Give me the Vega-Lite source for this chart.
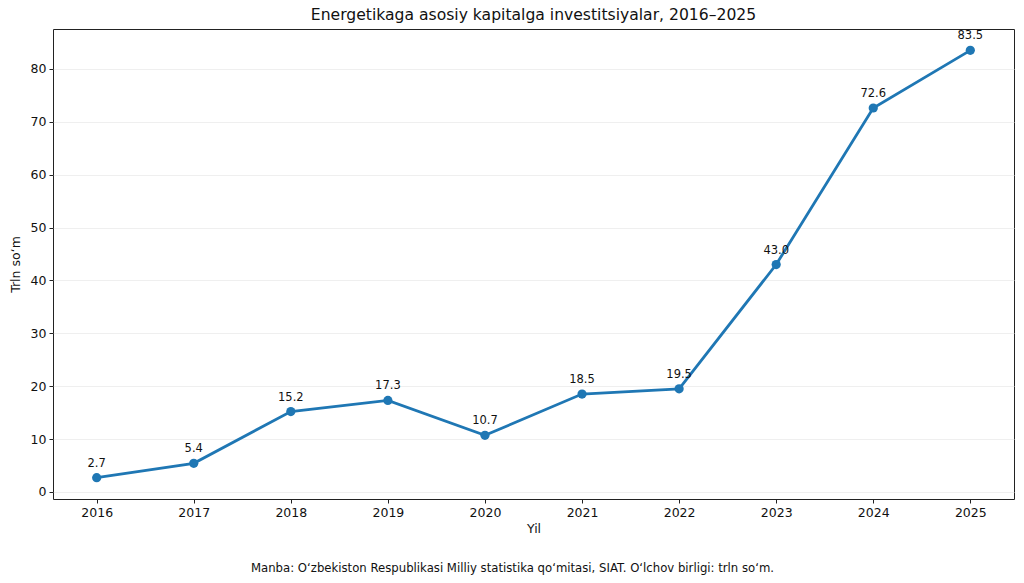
{
  "$schema": "https://vega.github.io/schema/vega-lite/v6.json",
  "width": 961,
  "height": 470,
  "autosize": {"type": "none"},
  "padding": {"left": 53, "top": 29, "right": 10, "bottom": 84},
  "background": "white",
  "config": {
    "font": "DejaVu Sans",
    "view": {"stroke": "#222", "strokeWidth": 1},
    "axis": {
      "domain": false,
      "tickColor": "#222",
      "tickSize": 4,
      "labelColor": "#111",
      "titleColor": "#111",
      "labelFontSize": 12.5,
      "titleFontSize": 12.5,
      "titleFontWeight": "normal",
      "labelFontWeight": "normal",
      "labelFont": "DejaVu Sans",
      "titleFont": "DejaVu Sans"
    }
  },
  "title": {
    "text": "Energetikaga asosiy kapitalga investitsiyalar, 2016–2025",
    "fontSize": 15.6,
    "fontWeight": "normal",
    "font": "DejaVu Sans",
    "color": "#111",
    "anchor": "middle",
    "offset": 5
  },
  "data": {
    "values": [
      {"yil": 2016, "qiymat": 2.7},
      {"yil": 2017, "qiymat": 5.4},
      {"yil": 2018, "qiymat": 15.2},
      {"yil": 2019, "qiymat": 17.3},
      {"yil": 2020, "qiymat": 10.7},
      {"yil": 2021, "qiymat": 18.5},
      {"yil": 2022, "qiymat": 19.5},
      {"yil": 2023, "qiymat": 43.0},
      {"yil": 2024, "qiymat": 72.6},
      {"yil": 2025, "qiymat": 83.5}
    ]
  },
  "encoding": {
    "y": {
      "field": "qiymat",
      "type": "quantitative",
      "scale": {"domain": [-1.34, 87.54], "nice": false, "zero": false},
      "axis": {
        "values": [0, 10, 20, 30, 40, 50, 60, 70, 80],
        "grid": true,
        "gridColor": "#ebebeb",
        "gridWidth": 0.8,
        "labelPadding": 3,
        "title": "Trln soʻm",
        "titlePadding": 8
      }
    }
  },
  "layer": [
    {
      "mark": {"type": "line", "color": "#1f77b4", "strokeWidth": 2.8},
      "encoding": {
        "x": {
          "field": "yil",
          "type": "quantitative",
          "scale": {"domain": [2015.55, 2025.45], "nice": false, "zero": false},
          "axis": {
            "orient": "bottom",
            "values": [2016, 2017, 2018, 2019, 2020, 2021, 2022, 2023, 2024, 2025],
            "format": "d",
            "grid": false,
            "labelPadding": 3,
            "title": "Yil",
            "titlePadding": 4
          }
        }
      }
    },
    {
      "mark": {"type": "point", "filled": true, "color": "#1f77b4", "opacity": 1, "size": 85},
      "encoding": {
        "x": {"field": "yil", "type": "quantitative", "axis": null}
      }
    },
    {
      "mark": {"type": "text", "fontSize": 11.5, "color": "#111", "baseline": "alphabetic", "dy": -11, "font": "DejaVu Sans"},
      "encoding": {
        "x": {"field": "yil", "type": "quantitative", "axis": null},
        "text": {"field": "qiymat", "type": "quantitative", "format": ".1f"}
      }
    },
    {
      "mark": {"type": "point", "opacity": 0},
      "encoding": {
        "x": {
          "field": "yil",
          "type": "quantitative",
          "axis": {
            "orient": "bottom",
            "labels": false,
            "ticks": false,
            "grid": false,
            "title": "Manba: Oʻzbekiston Respublikasi Milliy statistika qoʻmitasi, SIAT. Oʻlchov birligi: trln soʻm.",
            "titleFontSize": 11.7,
            "titleX": 459,
            "titleY": 72,
            "titleAnchor": "middle",
            "titleAlign": "center",
            "titleBaseline": "alphabetic"
          }
        }
      }
    }
  ],
  "resolve": {"axis": {"x": "independent"}}
}
